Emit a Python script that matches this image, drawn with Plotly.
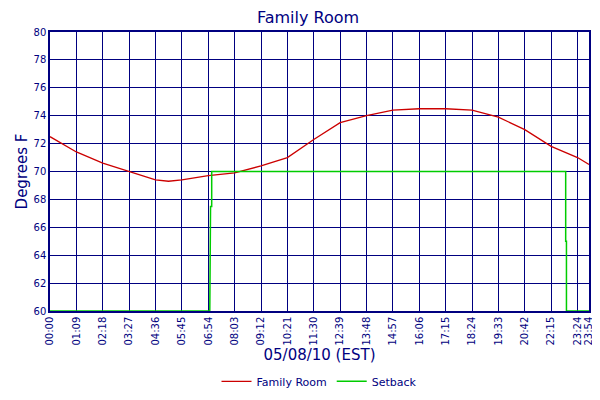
import plotly.graph_objects as go

tick_idx = [0,69,138,207,276,345,414,483,552,621,690,759,828,897,966,1035,1104,1173,1242,1311,1380,1410]
tick_labels = ["00:00","01:09","02:18","03:27","04:36","05:45","06:54","08:03","09:12","10:21","11:30",
               "12:39","13:48","14:57","16:06","17:15","18:24","19:33","20:42","22:15","23:24","23:54"]

temp_x = [0,69,138,207,276,310,345,414,483,552,621,690,759,828,897,966,1035,1104,1173,1242,1311,1380,1410]
temp_y = [72.5,71.4,70.6,70.0,69.4,69.3,69.4,69.7,69.9,70.4,71.0,72.3,73.5,74.0,74.4,74.5,74.5,74.4,73.9,73.0,71.8,71.0,70.5]

set_x = [0,418,420,423,423,1349,1349,1351,1351,1410]
set_y = [60,60,67.5,67.5,70,70,65,65,60,60]

navy = "#000080"
fig = go.Figure()
fig.add_trace(go.Scatter(x=temp_x, y=temp_y, mode="lines", name="Family Room", line=dict(color="#cc0000", width=1.3)))
fig.add_trace(go.Scatter(x=set_x, y=set_y, mode="lines", name="Setback", line=dict(color="#00cc00", width=1.5)))
fig.add_trace(go.Scatter(x=[0], y=[60], yaxis="y2", mode="markers", marker=dict(opacity=0), showlegend=False, hoverinfo="skip"))

font = dict(family="DejaVu Sans", color=navy)
fig.update_layout(
    width=600, height=400, margin=dict(l=42, r=19, t=24, b=81),
    paper_bgcolor="white", plot_bgcolor="white",
    title=dict(text="Family Room", x=0.5, y=0.99, yanchor="top", font=dict(size=16, **font)),
    font=dict(size=10, **font),
    xaxis=dict(range=[0,1410], tickvals=tick_idx, ticktext=tick_labels, tickangle=-90, automargin=False,
               showgrid=True, gridcolor=navy, gridwidth=1, zeroline=False,
               showline=True, linecolor=navy, mirror=True, linewidth=1.5, ticks="",
               title=dict(text="05/08/10 (EST)", font=dict(size=15, **font), standoff=4),
               tickfont=dict(size=10, **font)),
    yaxis=dict(range=[60,80], dtick=2, showgrid=True, gridcolor=navy, zeroline=False, automargin=False,
               showline=True, linecolor=navy, linewidth=1.5, ticks="",
               title=dict(text="Degrees F", font=dict(size=15, **font), standoff=2),
               tickfont=dict(size=10, **font)),
    yaxis2=dict(range=[60,80], dtick=2, overlaying="y", side="right", showgrid=False, zeroline=False, automargin=False,
                showline=True, linecolor=navy, linewidth=1.5, ticks="", tickfont=dict(size=10, **font)),
    legend=dict(orientation="h", x=0.5, xanchor="center", y=-0.2, yanchor="top", font=dict(size=11, **font)),
)
fig.write_html("out.html")
